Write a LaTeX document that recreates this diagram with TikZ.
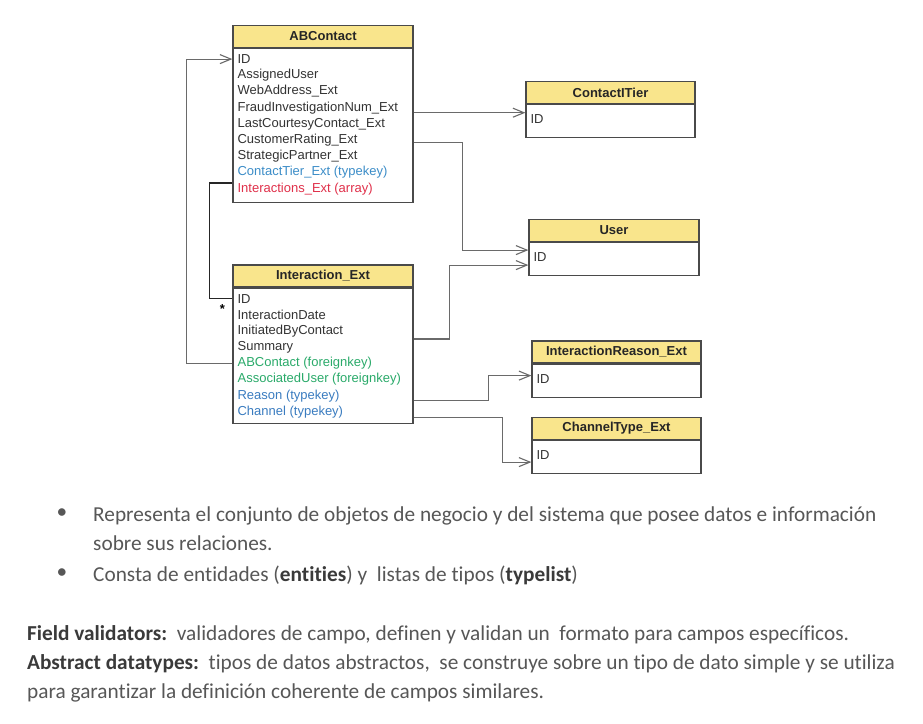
\documentclass[tikz,border=0pt]{standalone}
\usepackage{fontspec}
\usepackage{tikz}
\usetikzlibrary{arrows.meta,positioning,calc}
\newfontfamily\boxfont{Liberation Sans}
\newfontfamily\parafont[Ligatures=NoCommon]{Carlito}
\definecolor{headyellow}{HTML}{F9E58C}
\definecolor{boxgray}{HTML}{4A4A4A}
\definecolor{linegray}{HTML}{6A6A6A}
\definecolor{rowgray}{HTML}{333333}
\definecolor{tierblue}{HTML}{3C8DC8}
\definecolor{fkgreen}{HTML}{2AAA6A}
\definecolor{keyblue}{HTML}{3A7CC0}
\definecolor{arrred}{HTML}{E0304A}
\definecolor{paragray}{HTML}{575757}
\definecolor{boldgray}{HTML}{3A3A3A}

\begin{document}
\begin{tikzpicture}[x=1pt,y=-1pt]
    \tikzset{
      entityhead/.style={rectangle,draw=boxgray,fill=headyellow,line width=1.2pt,minimum width=#1,minimum height=22pt,inner sep=0pt,font=\boxfont\fontsize{13}{16}\selectfont\bfseries,text=black!85},
      entitybody/.style={rectangle,draw=boxgray,fill=white,line width=1.2pt,minimum width=#1,inner sep=0pt},
      row/.style={anchor=west,inner sep=0pt,font=\boxfont\fontsize{13}{16}\selectfont,text=rowgray},
      link/.style={draw=linegray,line width=1.1pt},
      arrow/.style={link,-{Straight Barb[length=11pt,width=9pt]}},
      para/.style={anchor=base west,inner sep=0pt,font=\parafont\fontsize{21.3}{29}\selectfont,text=paragray},
      bulletmark/.style={inner sep=0pt,font=\parafont\fontsize{21.3}{29}\selectfont,text=paragray}
    }
    \useasboundingbox[fill=white] (0,0) rectangle (923,723);

    % ABContact
    \node[entityhead=180] (ab) at (323,36.5) {ABContact};
    \node[entitybody=180,below=0pt of ab,minimum height=154pt] (ab-body) {};
    \foreach \txt/\col [count=\i] in {ID/rowgray,AssignedUser/rowgray,WebAddress\_Ext/rowgray,FraudInvestigationNum\_Ext/rowgray,LastCourtesyContact\_Ext/rowgray,CustomerRating\_Ext/rowgray,StrategicPartner\_Ext/rowgray,ContactTier\_Ext (typekey)/tierblue,Interactions\_Ext (array)/arrred}
      \node[row,text=\col] (ab-\i) at ($(ab-body.north west)+(5,{11+16.2*(\i-1)})$) {\txt};

    % Interaction_Ext
    \node[entityhead=180] (in) at (323,276) {Interaction\_Ext};
    \node[entitybody=180,below=0pt of in,minimum height=135pt] (in-body) {};
    \foreach \txt/\col [count=\i] in {ID/rowgray,InteractionDate/rowgray,InitiatedByContact/rowgray,Summary/rowgray,ABContact (foreignkey)/fkgreen,AssociatedUser (foreignkey)/fkgreen,Reason (typekey)/keyblue,Channel (typekey)/keyblue}
      \node[row,text=\col] (in-\i) at ($(in-body.north west)+(5,{11+16.2*(\i-1)})$) {\txt};

    % typelists and User
    \foreach \name/\title/\px/\py/\w in {ct/ContactITier/610.5/92.5/169,usr/User/614/230.5/170,ir/InteractionReason\_Ext/616.5/352/169,ch/ChannelType\_Ext/616.5/428.5/169}{
      \node[entityhead=\w] (\name) at (\px,\py) {\title};
      \node[entitybody=\w,below=0pt of \name,minimum height=33pt] (\name-body) {};
      \node[row] (\name-1) at ($(\name-body.north west)+(5,15)$) {ID};
    }

    \draw[arrow] ([yshift=-5pt]ab-4.west -| ab-body.east) -- ([yshift=-5pt]ab-4.west -| ct-body.west);
    \draw[arrow] ([yshift=-2pt]ab-6.west -| ab-body.east) -- ++(49,0) |- ([yshift=7pt]usr-1.west -| usr-body.west);
    \draw[arrow] ([yshift=-8pt]in-3.west -| in-body.east) -- ++(36,0) |- ([yshift=-8pt]usr-1.west -| usr-body.west);
    \draw[arrow] ([yshift=-5pt]in-7.west -| in-body.east) -- ++(75,0) |- ([yshift=3pt]ir-1.west -| ir-body.west);
    \draw[arrow] ([yshift=-5.5pt]in-8.west -| in-body.east) -- ++(89,0) |- ([yshift=-7pt]ch-1.west -| ch-body.west);
    \draw[arrow] (in-5.west -| in-body.west) -- ++(-46,0) |- (ab-1.west -| ab-body.west);
    \coordinate (in-in) at (in-1.west -| in-body.west);
    \draw[draw=black!85,line width=1.6pt] ([yshift=5.5pt]ab-9.west -| ab-body.west) -- ++(-23,0) |- (in-in);
    \node[inner sep=0pt,font=\boxfont\fontsize{13}{16}\selectfont\bfseries] (mult) at ([xshift=-10pt,yshift=-10pt]in-in) {*};

    % text
    \node[bulletmark] (b1) at (62,514) {•};
    \node[para] (t1) at (93,521) {Representa el conjunto de objetos de negocio y del sistema que posee datos e información};
    \node[para] (t2) at (93,550) {sobre sus relaciones.};
    \node[bulletmark] (b2) at (62,574) {•};
    \node[para] (t3) at (93,581) {Consta de entidades (\textcolor{boldgray}{\textbf{entities}}) y\ \ listas de tipos (\textcolor{boldgray}{\textbf{typelist}})};
    \node[para] (t4) at (27,640) {\textcolor{boldgray}{\textbf{Field validators:}}\ \ validadores de campo, definen y validan un\ \ formato para campos específicos.};
    \node[para] (t5) at (27,669) {\textcolor{boldgray}{\textbf{Abstract datatypes:}}\ \ tipos de datos abstractos,\ \ se construye sobre un tipo de dato simple y se utiliza};
    \node[para] (t6) at (27,698) {para garantizar la definición coherente de campos similares.};
\end{tikzpicture}
\end{document}
